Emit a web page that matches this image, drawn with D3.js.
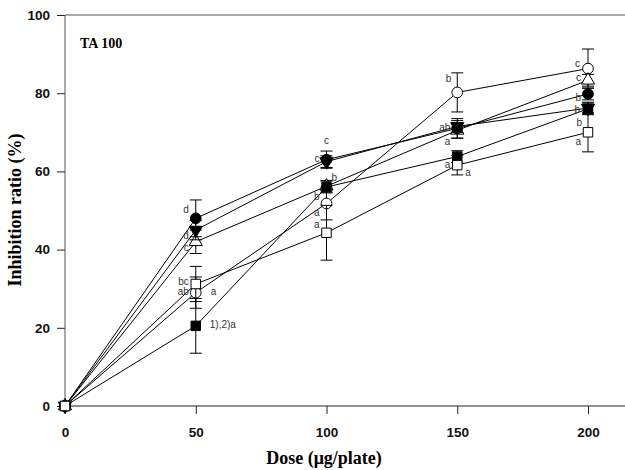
<!DOCTYPE html>
<html>
<head>
<meta charset="utf-8">
<script src="https://cdn.jsdelivr.net/npm/d3@7"></script>
<style>
  body { margin: 0; background: #fff; }
  #chart { width: 625px; height: 470px; }
</style>
</head>
<body>
<div id="chart"></div>
<script>
// data
var doses = [0, 50, 100, 150, 200];
var xTicks = [0, 50, 100, 150, 200];
var yTicks = [0, 20, 40, 60, 80, 100];

// mean values, one array per sample
var filledSquare   = [0, 20.5, 56.0, 63.8, 76.0];
var openSquare     = [0, 31.2, 44.3, 61.6, 70.0];
var openCircle     = [0, 29.0, 51.8, 80.2, 86.3];
var filledCircle   = [0, 48.0, 63.0, 71.0, 79.8];
var filledTriangle = [0, 45.0, 62.5, 71.5, 76.2];
var openTriangle   = [0, 42.0, 56.2, 70.5, 83.3];

// standard deviations
var filledSquareErr   = [0, 7.0, 1.5, 1.5, 1.5];
var openSquareErr     = [0, 4.5, 7.0, 2.5, 5.0];
var openCircleErr     = [0, 4.0, 4.2, 5.0, 5.0];
var filledCircleErr   = [0, 4.7, 2.2, 2.5, 1.5];
var filledTriangleErr = [0, 2.5, 1.5, 1.5, 1.5];
var openTriangleErr   = [0, 3.0, 1.5, 2.0, 1.5];

// significance letters: [sample, dose index, text]
var sigLetters = [
    ["filledSquare", 1, "1),2)a"], ["filledSquare", 2, "b"], ["filledSquare", 3, "a"], ["filledSquare", 4, "b"],
    ["openSquare", 1, "bc"], ["openSquare", 2, "a"], ["openSquare", 2, "a"], ["openSquare", 3, "a"], ["openSquare", 3, "a"], ["openSquare", 4, "a"],
    ["openCircle", 1, "ab"], ["openCircle", 1, "a"], ["openCircle", 2, "b"], ["openCircle", 3, "b"], ["openCircle", 4, "c"],
    ["filledCircle", 1, "d"], ["filledCircle", 2, "c"], ["filledCircle", 2, "c"], ["filledCircle", 3, "ab"], ["filledCircle", 4, "b"],
    ["filledTriangle", 1, "d"], ["filledTriangle", 4, "b"],
    ["openTriangle", 1, "c"], ["openTriangle", 4, "c"]
];
// letter placement (dx, dy, anchor), same order as sigLetters
var sigOffsets = [
    [14, 0, "start"], [5, -9, "start"], [-7, -14, "end"], [-6, 15, "end"],
    [-7, -2, "end"], [-7, -19, "end"], [-7, -7, "end"], [-7, 0, "end"], [8, 8, "start"], [-7, 10, "end"],
    [-7, 0, "end"], [15, 0, "start"], [-7, -6, "end"], [-6, -13, "end"], [-8, -4, "end"],
    [-7, -8, "end"], [0, -18, "middle"], [-7, 0, "end"], [-7, 0, "end"], [-7, 4, "end"],
    [-7, 6, "end"], [-8, 2, "end"],
    [-7, 7, "end"], [-7, -2, "end"]
];

// drawing order: later samples sit on top
var samples = [
    { key: "openCircle", values: openCircle, err: openCircleErr, shape: d3.symbolCircle, fill: "white" },
    { key: "openTriangle", values: openTriangle, err: openTriangleErr, shape: d3.symbolTriangle, fill: "white" },
    { key: "filledTriangle", values: filledTriangle, err: filledTriangleErr, shape: d3.symbolTriangle, fill: "black", flip: true },
    { key: "filledCircle", values: filledCircle, err: filledCircleErr, shape: d3.symbolCircle, fill: "black" },
    { key: "filledSquare", values: filledSquare, err: filledSquareErr, shape: d3.symbolSquare, fill: "black" },
    { key: "openSquare", values: openSquare, err: openSquareErr, shape: d3.symbolSquare, fill: "white" }
];

var width = 625, height = 470;
var svg = d3.select("#chart")
    .append("svg")
    .attr("width", width)
    .attr("height", height);

var x = d3.scaleLinear().domain([0, 200]).range([65, 588]);
var y = d3.scaleLinear().domain([0, 100]).range([406, 15]);

// x axis
svg.append("g")
    .attr("class", "xAxis")
    .attr("transform", "translate(0,406)")
    .call(d3.axisBottom(x).tickValues(xTicks).tickSize(8).tickPadding(13).tickSizeOuter(0));

// y axis
svg.append("g")
    .attr("class", "yAxis")
    .attr("transform", "translate(65,0)")
    .call(d3.axisLeft(y).tickValues(yTicks).tickSize(8).tickPadding(7).tickSizeOuter(0));

svg.selectAll(".xAxis .domain, .yAxis .domain").remove();
svg.selectAll(".tick line").attr("stroke", "#222");
svg.selectAll(".tick text")
    .attr("font-family", "Liberation Sans, Arial, sans-serif")
    .attr("font-weight", "bold")
    .style("font-size", "13.5px")
    .attr("fill", "#111");

// frame lines
svg.append("line").attr("x1", 65).attr("x2", 625).attr("y1", 406).attr("y2", 406).attr("stroke", "#222");
svg.append("line").attr("x1", 65).attr("x2", 625).attr("y1", 15).attr("y2", 15).attr("stroke", "#555");
svg.append("line").attr("x1", 65).attr("x2", 65).attr("y1", 15).attr("y2", 406).attr("stroke", "#555");

// series
var line = d3.line()
    .x(function (d, i) { return x(doses[i]); })
    .y(function (d) { return y(d); });

samples.forEach(function (s) {
    var g = svg.append("g").attr("class", "series " + s.key);

    // error bars
    s.values.forEach(function (v, i) {
        if (!s.err[i]) return;
        var cx = x(doses[i]);
        g.append("line").attr("x1", cx).attr("x2", cx)
            .attr("y1", y(v - s.err[i])).attr("y2", y(v + s.err[i]))
            .attr("stroke", "black").attr("stroke-width", 1);
        [v - s.err[i], v + s.err[i]].forEach(function (e) {
            g.append("line").attr("x1", cx - 6).attr("x2", cx + 6)
                .attr("y1", y(e)).attr("y2", y(e))
                .attr("stroke", "black").attr("stroke-width", 1);
        });
    });

    g.append("path")
        .datum(s.values)
        .attr("d", line)
        .attr("fill", "none")
        .attr("stroke", "black")
        .attr("stroke-width", 1);

    g.selectAll("path.mark")
        .data(s.values)
        .enter()
        .append("path")
        .attr("class", "mark")
        .attr("d", d3.symbol().type(s.shape).size(s.shape === d3.symbolTriangle ? 75 : 90))
        .attr("transform", function (d, i) {
            return "translate(" + x(doses[i]) + "," + y(d) + ")" + (s.flip ? " rotate(180)" : "");
        })
        .attr("fill", s.fill)
        .attr("stroke", "black")
        .attr("stroke-width", 1);
});

// significance letters
var valuesByKey = {};
samples.forEach(function (s) { valuesByKey[s.key] = s.values; });
svg.append("g")
    .selectAll("text")
    .data(sigLetters)
    .enter()
    .append("text")
    .attr("x", function (d, i) { return x(doses[d[1]]) + sigOffsets[i][0]; })
    .attr("y", function (d, i) { return y(valuesByKey[d[0]][d[1]]) + sigOffsets[i][1]; })
    .attr("text-anchor", function (d, i) { return sigOffsets[i][2]; })
    .attr("dominant-baseline", "middle")
    .attr("font-family", "Liberation Sans, Arial, sans-serif")
    .style("font-size", "10px")
    .attr("fill", "#333")
    .text(function (d) { return d[2]; });

// title
svg.append("text")
    .attr("x", 80)
    .attr("y", 48)
    .attr("font-family", "Liberation Serif, Times New Roman, serif")
    .attr("font-weight", "bold")
    .style("font-size", "14px")
    .text("TA 100");

// x axis text
svg.append("text")
    .attr("text-anchor", "middle")
    .attr("x", 324)
    .attr("y", 464)
    .attr("font-family", "Liberation Serif, Times New Roman, serif")
    .attr("font-weight", "bold")
    .style("font-size", "18px")
    .text("Dose (μg/plate)");

// y axis text
svg.append("text")
    .attr("text-anchor", "middle")
    .attr("transform", "translate(21,210) rotate(-90)")
    .attr("font-family", "Liberation Serif, Times New Roman, serif")
    .attr("font-weight", "bold")
    .style("font-size", "18px")
    .text("Inhibition ratio (%)");
</script>
</body>
</html>
